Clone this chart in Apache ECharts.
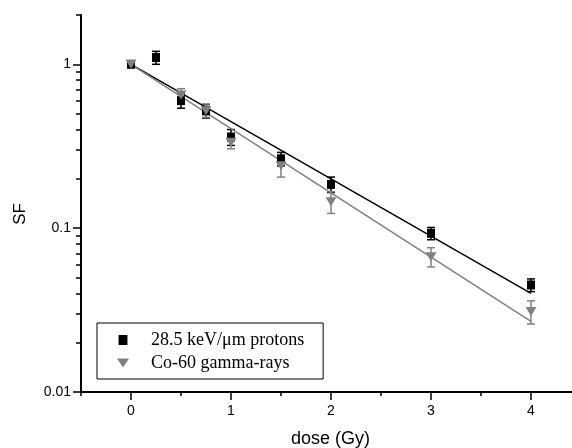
<!DOCTYPE html>
<html>
<head>
<meta charset="utf-8">
<script src="https://cdn.jsdelivr.net/npm/echarts@6/dist/echarts.min.js"></script>
<style>
  html, body { margin: 0; padding: 0; background: #fff; }
  #chart { width: 572px; height: 448px; }
</style>
</head>
<body>
<div id="chart"></div>
<script>
// Surviving fraction after irradiation: protons vs Co-60 gamma-rays
const doseProton = [0, 0.25, 0.5, 0.75, 1, 1.5, 2, 3, 4];
const sfProton   = [1.0, 1.10, 0.60, 0.52, 0.36, 0.265, 0.185, 0.093, 0.045];
const errProton  = [0.03, 0.10, 0.06, 0.05, 0.04, 0.025, 0.02, 0.008, 0.004];

const doseGamma = [0, 0.5, 0.75, 1, 1.5, 2, 3, 4];
const sfGamma   = [1.0, 0.65, 0.52, 0.335, 0.24, 0.145, 0.067, 0.031];
const errGamma  = [0.03, 0.06, 0.045, 0.03, 0.035, 0.022, 0.009, 0.005];

// exponential fits, straight on the log axis: end points
const fitProton = [[0, 1.0], [4, 0.040]];
const fitGamma  = [[0, 1.0], [4, 0.027]];

const xMajorTicks = [0, 1, 2, 3, 4];
const xMinorTicks = [-0.5, 0.5, 1.5, 2.5, 3.5];
const yMajorTicks = [0.01, 0.1, 1];
const yMinorTicks = [0.02, 0.03, 0.04, 0.05, 0.06, 0.07, 0.08, 0.09,
                     0.2, 0.3, 0.4, 0.5, 0.6, 0.7, 0.8, 0.9, 2];

const nameProton = '28.5 keV/\u03bcm protons';
const nameGamma = 'Co-60 gamma-rays';
const GRAY = '#808080';
const SQUARE = 'path://M0,0L8,0L8,9L0,9Z';
const TRI_DOWN = 'path://M0,0L12,0L6,9Z';
const SANS = '"Liberation Sans", Arial, sans-serif';
const SERIF = '"Liberation Serif", "Times New Roman", serif';

function errorBars(xs, ys, es, color) {
  return {
    type: 'custom',
    silent: true,
    z: 1,
    encode: { x: 0, y: [1, 2] },
    data: xs.map((x, i) => [x, ys[i] - es[i], ys[i] + es[i]]),
    renderItem(params, api) {
      const x = api.value(0);
      const lo = api.coord([x, api.value(1)]);
      const hi = api.coord([x, api.value(2)]);
      const w = 4;
      const st = { stroke: color, lineWidth: 1.5 };
      return {
        type: 'group',
        children: [
          { type: 'line', shape: { x1: lo[0], y1: lo[1], x2: hi[0], y2: hi[1] }, style: st },
          { type: 'line', shape: { x1: lo[0] - w, y1: lo[1], x2: lo[0] + w, y2: lo[1] }, style: st },
          { type: 'line', shape: { x1: hi[0] - w, y1: hi[1], x2: hi[0] + w, y2: hi[1] }, style: st }
        ]
      };
    }
  };
}

const xBase = { type: 'value', min: -0.5, max: 4.41, position: 'bottom', splitLine: { show: false } };
const yBase = { type: 'log', logBase: 10, min: 0.01, max: 2, position: 'left', splitLine: { show: false }, minorTick: { show: false } };

const chart = echarts.init(document.getElementById('chart'), null, { renderer: 'canvas' });
chart.setOption({
  animation: false,
  backgroundColor: '#fff',
  grid: { left: 81, right: 0, top: 15, bottom: 56, containLabel: false },
  xAxis: [
    Object.assign({}, xBase, {
      axisLine: { show: true, onZero: false, lineStyle: { color: '#000', width: 2 } },
      axisTick: { show: true, length: 8, lineStyle: { color: '#000', width: 1.5 }, customValues: xMajorTicks },
      axisLabel: { customValues: xMajorTicks, margin: 12, color: '#000', fontFamily: SANS, fontSize: 14,
                   formatter: v => String(v) }
    }),
    Object.assign({}, xBase, {
      axisLine: { show: false, onZero: false },
      axisTick: { show: true, length: 4, lineStyle: { color: '#000', width: 1.5 }, customValues: xMinorTicks },
      axisLabel: { show: false }
    })
  ],
  yAxis: [
    Object.assign({}, yBase, {
      axisLine: { show: true, onZero: false, lineStyle: { color: '#000', width: 2 } },
      axisTick: { show: true, length: 8, lineStyle: { color: '#000', width: 1.5 }, customValues: yMajorTicks },
      axisLabel: { customValues: yMajorTicks, margin: 10, color: '#000', fontFamily: SANS, fontSize: 14,
                   formatter: v => String(v) }
    }),
    Object.assign({}, yBase, {
      axisLine: { show: false, onZero: false },
      axisTick: { show: true, length: 5, lineStyle: { color: '#000', width: 1.5 }, customValues: yMinorTicks },
      axisLabel: { show: false }
    })
  ],
  legend: {
    orient: 'vertical',
    left: 97,
    top: 323,
    padding: [8, 19, 7, 20],
    itemGap: 5,
    itemWidth: 12,
    itemHeight: 10,
    borderColor: '#000',
    borderWidth: 1,
    backgroundColor: '#fff',
    selectedMode: false,
    textStyle: { fontFamily: SERIF, fontSize: 18, lineHeight: 18, color: '#000', padding: [0, 0, 0, 17] },
    data: [
      { name: nameProton, icon: SQUARE, itemStyle: { color: '#000' } },
      { name: nameGamma, icon: TRI_DOWN, itemStyle: { color: GRAY } }
    ]
  },
  graphic: [
    { type: 'text', left: 12, top: 203, rotation: Math.PI / 2,
      style: { text: 'SF', fontFamily: SANS, fontSize: 17, fill: '#000' } },
    { type: 'text', left: 291, top: 430,
      style: { text: 'dose (Gy)', fontFamily: SANS, fontSize: 18, fill: '#000' } }
  ],
  series: [
    errorBars(doseProton, sfProton, errProton, '#000'),
    errorBars(doseGamma, sfGamma, errGamma, GRAY),
    {
      type: 'line', data: fitProton, showSymbol: false, silent: true, z: 2,
      lineStyle: { color: '#000', width: 1.5 }
    },
    {
      type: 'line', data: fitGamma, showSymbol: false, silent: true, z: 2,
      lineStyle: { color: GRAY, width: 1.5 }
    },
    {
      type: 'scatter', name: nameProton, z: 3,
      data: doseProton.map((d, i) => [d, sfProton[i]]),
      symbol: SQUARE, symbolSize: [8, 9],
      itemStyle: { color: '#000', opacity: 1 }
    },
    {
      type: 'scatter', name: nameGamma, z: 4,
      data: doseGamma.map((d, i) => [d, sfGamma[i]]),
      symbol: TRI_DOWN, symbolSize: [11, 9],
      itemStyle: { color: GRAY, opacity: 1 }
    }
  ]
});
</script>
</body>
</html>
